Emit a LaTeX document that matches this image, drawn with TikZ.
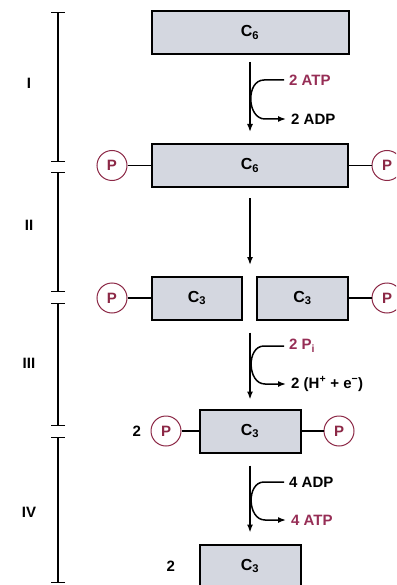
\documentclass[tikz,border=0pt]{standalone}
\usepackage{fontspec}
\setmainfont{Liberation Sans}
\usetikzlibrary{positioning,arrows.meta}
\definecolor{atpcol}{RGB}{150,45,85}
\definecolor{boxcol}{RGB}{212,215,224}
\definecolor{phcol}{RGB}{140,40,70}

\begin{document}
\begin{tikzpicture}[x=1pt,y=-1pt,
  sugar/.style={rectangle, draw=black, line width=2pt, fill=boxcol, minimum width=#1,
                minimum height=43pt, inner sep=0pt, font=\fontsize{16}{18}\selectfont\bfseries},
  phos/.style={circle, draw=phcol, line width=1pt, fill=white, minimum size=30pt,
               inner sep=0pt, text=phcol, font=\fontsize{15}{17}\selectfont\bfseries},
  flow/.style={-{Latex[length=8pt,width=6pt]}, line width=1.5pt},
  side/.style={-{Latex[length=8pt,width=6pt]}, line width=1.5pt, looseness=1.2},
  lbl/.style={anchor=west, inner sep=0pt, font=\fontsize{15}{17}\selectfont\bfseries, text=#1},
  lbl/.default=black,
  stage/.style={font=\fontsize{15}{17}\selectfont\bfseries},
  link/.style={line width=1.8pt}
]
\useasboundingbox (0,0) rectangle (396,585);
\clip (0,0) rectangle (396,585);

% carbon skeletons
\node[sugar=197pt] (hex)   at (250,32.5)  {C\textsubscript{6}};
\node[sugar=196pt] (hexbp) at (250,165.5) {C\textsubscript{6}};
\node[sugar=90pt]  (triL)  at (197,298)   {C\textsubscript{3}};
\node[sugar=91pt]  (triR)  at (302.5,298) {C\textsubscript{3}};
\node[sugar=101pt] (bpg)   at (250,431)   {C\textsubscript{3}};
\node[sugar=101pt] (pyr)   at (250,566)   {C\textsubscript{3}};

% phosphate groups
\node[phos] (p1l) at (112,165.5) {P};
\node[phos] (p1r) at (387,165.5) {P};
\node[phos] (p2l) at (112,298)   {P};
\node[phos] (p2r) at (387,298)   {P};
\node[phos] (p3l) at (166,431)   {P};
\node[phos] (p3r) at (339,431)   {P};

\node[stage, left=6pt of p3l]  (two1) {2};
\node[stage, left=20pt of pyr] (two2) {2};

\foreach \a/\b in {p1l/hexbp,hexbp/p1r,p2l/triL,triR/p2r,p3l/bpg,bpg/p3r}
  \draw[link] (\a) -- (\b);

% main flow
\coordinate (split)  at (250,276);
\coordinate (splitb) at (split |- triL.south);
\draw[flow] ([yshift=-7pt]hex.south)    -- ([yshift=11pt]hexbp.north);
\draw[flow] ([yshift=-10pt]hexbp.south) -- ([yshift=11pt]split);
\draw[flow] ([yshift=-12pt]splitb)      -- ([yshift=9pt]bpg.north);
\draw[flow] ([yshift=-12pt]bpg.south)   -- ([yshift=11pt]pyr.north);

% side reactions
\node[lbl=atpcol] (atpin)  at (289,80)  {2 ATP};
\node[lbl]        (adpout) at (291,119) {2 ADP};
\node[lbl=atpcol] (piin)   at (289,346) {2 P\textsubscript{i}};
\node[lbl]        (redout) at (291,384) {2 (H\textsuperscript{+} + e\textsuperscript{−})};
\node[lbl]        (adpin)  at (289,482) {4 ADP};
\node[lbl=atpcol] (atpout) at (291,520) {4 ATP};

\foreach \i/\o in {atpin/adpout,piin/redout,adpin/atpout}
  \draw[side] ([xshift=-5pt]\i.west) -- ++(-20,0)
    to[out=180,in=180] ([xshift=-26pt]\o.west) -- ([xshift=-5pt]\o.west);

% stage brackets
\foreach \ya/\yb/\num/\yl in {12/162/I/83,172/292/II/225,303/426/III/363,437/583/IV/512}{
  \draw[{Bar[width=14pt]}-{Bar[width=14pt]}, line width=1.3pt] (58,\ya) -- (58,\yb);
  \node[stage] (st\num) at (29,\yl) {\num};
}
\end{tikzpicture}
\end{document}
